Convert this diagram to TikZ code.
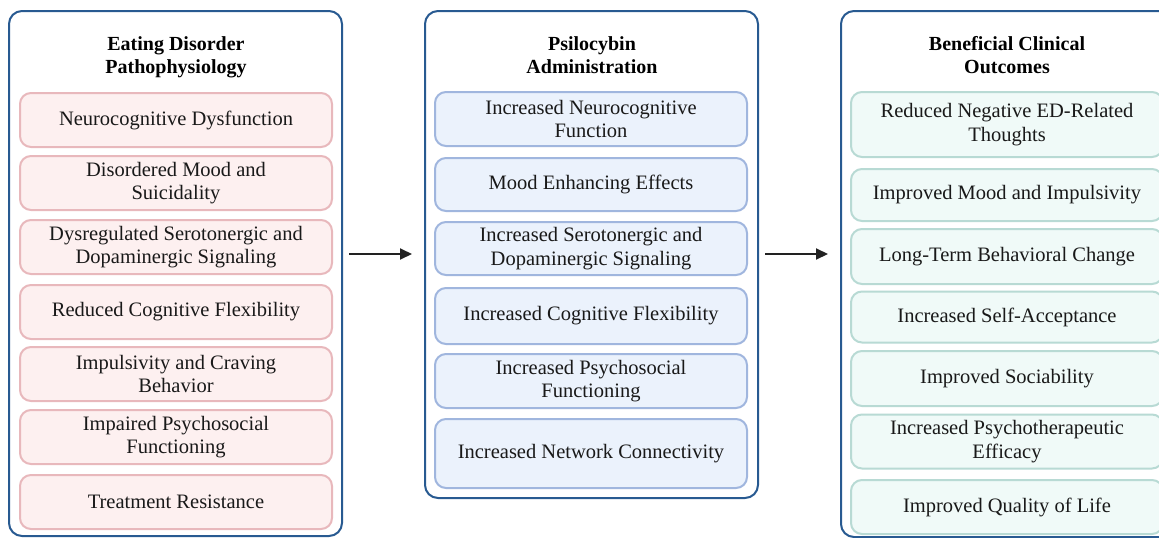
\documentclass[tikz,border=0pt]{standalone}
\usepackage{fontspec}
\setmainfont{Liberation Serif}
\usetikzlibrary{arrows.meta}
\definecolor{outerblue}{RGB}{40,90,145}
\definecolor{pinkfill}{RGB}{253,240,240}
\definecolor{pinkline}{RGB}{232,184,188}
\definecolor{bluefill}{RGB}{235,242,252}
\definecolor{blueline}{RGB}{160,182,222}
\definecolor{greenfill}{RGB}{240,250,248}
\definecolor{greenline}{RGB}{184,218,212}
\definecolor{arrowgray}{RGB}{34,34,34}
\tikzset{
  panel/.style={draw=outerblue, line width=2pt, rounded corners=13pt, fill=white, inner sep=0pt, minimum width=333pt},
  titletext/.style={align=center, inner sep=0pt, anchor=north, font=\bfseries\fontsize{20}{23}\selectfont, text=black},
  item/.style={rounded corners=11pt, line width=2pt, inner sep=0pt, align=center, minimum width=312pt, font=\fontsize{20.5}{23.5}\selectfont, text=black!90},
  pinkitem/.style={item, draw=pinkline, fill=pinkfill},
  blueitem/.style={item, draw=blueline, fill=bluefill},
  greenitem/.style={item, draw=greenline, fill=greenfill},
  flow/.style={draw=arrowgray, line width=2pt, -{Triangle[length=12pt,width=11pt]}}
}
\begin{document}
\begin{tikzpicture}[x=1pt,y=-1pt]
\clip (0,0) rectangle (1159,538);
\fill[white] (0,0) rectangle (1159,538);

% panels
\node[panel, minimum height=525pt] (p1) at (175.5,273.5) {};
\node[panel, minimum height=487pt] (p2) at (591.5,254.5) {};
\node[panel, minimum height=526pt] (p3) at (1007.5,274) {};

% titles
\node[titletext] (t1) at (176,36) {Eating Disorder\\Pathophysiology};
\node[titletext] (t2) at (592,36) {Psilocybin\\Administration};
\node[titletext] (t3) at (1007,36) {Beneficial Clinical\\Outcomes};

% panel 1
\node[pinkitem, minimum height=54pt] (a1) at (176,120) {Neurocognitive Dysfunction};
\node[pinkitem, minimum height=54pt] (a2) at (176,183) {Disordered Mood and\\Suicidality};
\node[pinkitem, minimum height=54pt] (a3) at (176,247) {Dysregulated Serotonergic and\\Dopaminergic Signaling};
\node[pinkitem, minimum height=54pt] (a4) at (176,312) {Reduced Cognitive Flexibility};
\node[pinkitem, minimum height=54pt] (a5) at (176,374) {Impulsivity and Craving\\Behavior};
\node[pinkitem, minimum height=54pt] (a6) at (176,437) {Impaired Psychosocial\\Functioning};
\node[pinkitem, minimum height=54pt] (a7) at (176,502) {Treatment Resistance};

% panel 2
\node[blueitem, minimum height=54pt] (b1) at (591,119) {Increased Neurocognitive\\Function};
\node[blueitem, minimum height=53pt] (b2) at (591,184.5) {Mood Enhancing Effects};
\node[blueitem, minimum height=53pt] (b3) at (591,248.5) {Increased Serotonergic and\\Dopaminergic Signaling};
\node[blueitem, minimum height=56pt] (b4) at (591,316) {Increased Cognitive Flexibility};
\node[blueitem, minimum height=54pt] (b5) at (591,381) {Increased Psychosocial\\Functioning};
\node[blueitem, minimum height=69pt] (b6) at (591,453.5) {Increased Network Connectivity};

% panel 3
\node[greenitem, minimum height=65pt] (c1) at (1007,124.5) {Reduced Negative ED-Related\\Thoughts};
\node[greenitem, minimum height=52pt] (c2) at (1007,195) {Improved Mood and Impulsivity};
\node[greenitem, minimum height=55pt] (c3) at (1007,256.5) {Long-Term Behavioral Change};
\node[greenitem, minimum height=51pt] (c4) at (1007,317) {Increased Self-Acceptance};
\node[greenitem, minimum height=55pt] (c5) at (1007,378.5) {Improved Sociability};
\node[greenitem, minimum height=54pt] (c6) at (1007,441.5) {Increased Psychotherapeutic\\Efficacy};
\node[greenitem, minimum height=54pt] (c7) at (1007,507) {Improved Quality of Life};

% arrows
\coordinate (a1s) at (349,254);
\coordinate (a1e) at (412,254);
\coordinate (a2s) at (765,254);
\coordinate (a2e) at (828,254);
\draw[flow] (a1s) -- (a1e);
\draw[flow] (a2s) -- (a2e);
\end{tikzpicture}
\end{document}
